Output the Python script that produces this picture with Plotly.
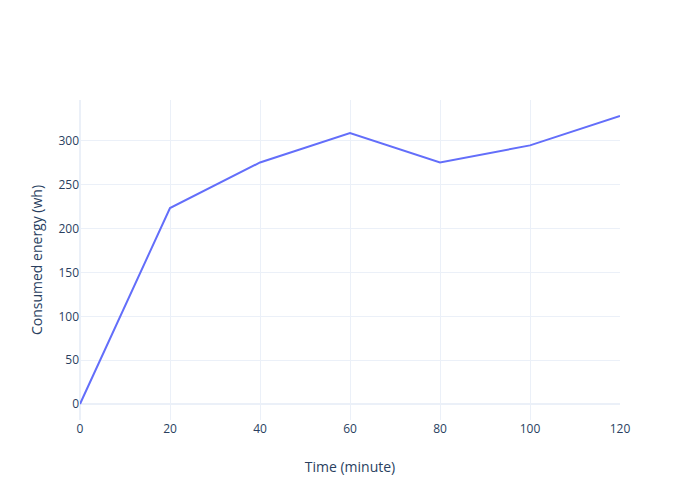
import plotly.graph_objects as go

time_minute = [0, 20, 40, 60, 80, 100, 120]
energy_wh = [0, 223.5, 275.5, 309, 275.5, 295, 328.5]

fig = go.Figure()
fig.add_trace(go.Scatter(x=time_minute, y=energy_wh, mode="lines"))
fig.update_layout(
    template="plotly_white",
    width=700,
    height=500,
    margin=dict(l=80, r=80, t=100, b=80),
    xaxis=dict(title=dict(text="Time (minute)", standoff=26)),
    yaxis=dict(title=dict(text="Consumed energy (wh)", standoff=12)),
)
fig.write_html("out.html", config={"displayModeBar": False},
               post_script="document.body.style.margin='0';")
